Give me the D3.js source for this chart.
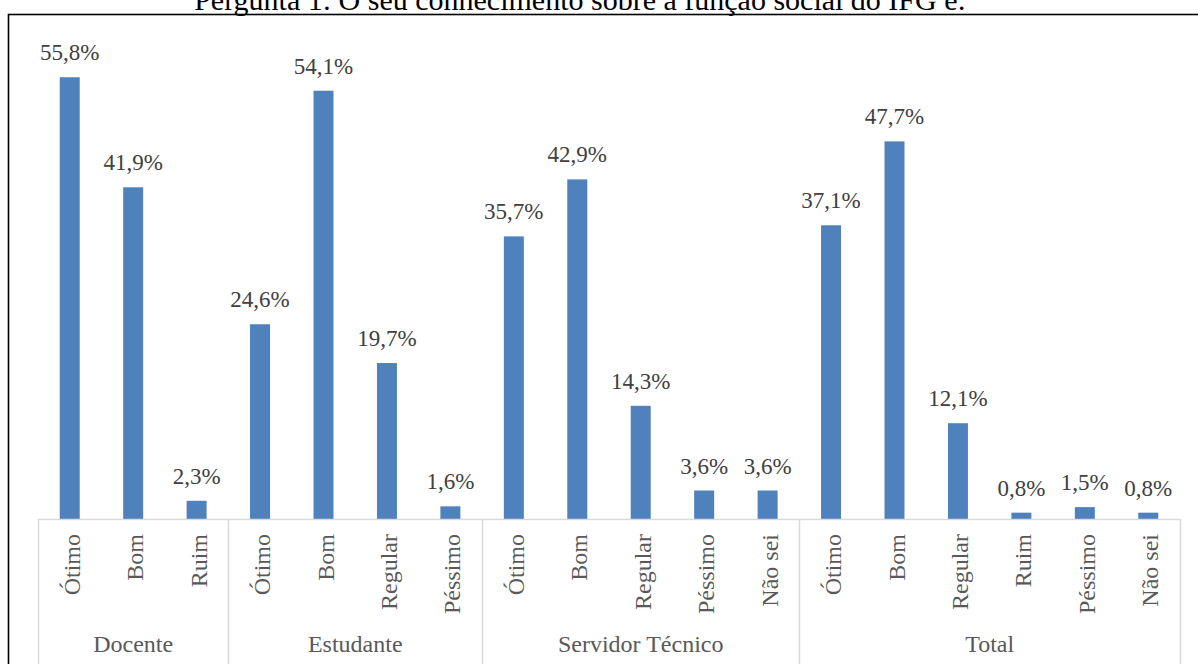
<!DOCTYPE html>
<html>
<head>
<meta charset="utf-8">
<script src="https://cdn.jsdelivr.net/npm/d3@7"></script>
<style>
  html, body { margin: 0; padding: 0; background: #fff; }
  svg { display: block; }
</style>
</head>
<body>
<svg id="chart" width="1198" height="664"></svg>
<script>
// Survey answers grouped by respondent profile
const groups = ["Docente", "Estudante", "Servidor Técnico", "Total"];
const docenteAnswers = ["Ótimo", "Bom", "Ruim"];
const docenteValues = [55.8, 41.9, 2.3];
const estudanteAnswers = ["Ótimo", "Bom", "Regular", "Péssimo"];
const estudanteValues = [24.6, 54.1, 19.7, 1.6];
const servidorAnswers = ["Ótimo", "Bom", "Regular", "Péssimo", "Não sei"];
const servidorValues = [35.7, 42.9, 14.3, 3.6, 3.6];
const totalAnswers = ["Ótimo", "Bom", "Regular", "Ruim", "Péssimo", "Não sei"];
const totalValues = [37.1, 47.7, 12.1, 0.8, 1.5, 0.8];
const yTicks = [0, 10, 20, 30, 40, 50, 60];

const answersByGroup = [docenteAnswers, estudanteAnswers, servidorAnswers, totalAnswers];
const valuesByGroup = [docenteValues, estudanteValues, servidorValues, totalValues];

// Flatten into one row per bar with a unique key
const rows = [];
groups.forEach((g, gi) => {
  answersByGroup[gi].forEach((a, ai) => {
    rows.push({ group: g, answer: a, value: valuesByGroup[gi][ai], key: g + "|" + a });
  });
});

const svg = d3.select("#chart");
const serif = "'Liberation Serif', 'Times New Roman', serif";

const plot = { left: 38, right: 1180, top: 44, bottom: 519 };

const x = d3.scaleBand()
  .domain(rows.map(d => d.key))
  .range([plot.left, plot.right])
  .paddingInner(0.685)
  .paddingOuter(0.3425);

const y = d3.scaleLinear()
  .domain([0, d3.max(yTicks)])
  .range([plot.bottom, plot.top]);

// Chart frame
svg.append("rect")
  .attr("x", 8.5).attr("y", 14.5)
  .attr("width", 1198).attr("height", 700)
  .attr("fill", "none")
  .attr("stroke", "#000")
  .attr("stroke-width", 1.6);

// Title
svg.append("text")
  .attr("x", 580).attr("y", 10)
  .attr("text-anchor", "middle")
  .attr("font-family", serif)
  .attr("font-size", 30)
  .attr("fill", "#000")
  .text("Pergunta 1: O seu conhecimento sobre a função social do IFG é:");

// Bars
svg.append("g").selectAll("rect")
  .data(rows)
  .join("rect")
  .attr("x", d => x(d.key))
  .attr("y", d => y(d.value))
  .attr("width", x.bandwidth())
  .attr("height", d => y(0) - y(d.value))
  .attr("fill", "#4F81BD");

// Value labels
svg.append("g").selectAll("text")
  .data(rows)
  .join("text")
  .attr("x", d => x(d.key) + x.bandwidth() / 2)
  .attr("y", d => y(d.value) - 17)
  .attr("text-anchor", "middle")
  .attr("font-family", serif)
  .attr("font-size", 23)
  .attr("fill", "#404040")
  .text(d => d.value.toFixed(1).replace(".", ",") + "%");

// Category axis baseline
const axisColor = "#d9d9d9";
svg.append("line")
  .attr("x1", plot.left).attr("x2", plot.right)
  .attr("y1", y(0) + 0.5).attr("y2", y(0) + 0.5)
  .attr("stroke", axisColor).attr("stroke-width", 1.5);

// Group dividers
const step = x.step();
const groupBounds = [];
let idx = 0;
groups.forEach((g, gi) => {
  const n = answersByGroup[gi].length;
  const start = plot.left + idx * step;
  const end = plot.left + (idx + n) * step;
  groupBounds.push({ group: g, start, end });
  idx += n;
});
const dividerXs = [plot.left].concat(groupBounds.map(b => b.end));
svg.append("g").selectAll("line")
  .data(dividerXs)
  .join("line")
  .attr("x1", d => Math.round(d) + 0.5).attr("x2", d => Math.round(d) + 0.5)
  .attr("y1", y(0)).attr("y2", 664)
  .attr("stroke", axisColor).attr("stroke-width", 1.5);

// Answer labels (rotated)
svg.append("g").selectAll("text")
  .data(rows)
  .join("text")
  .attr("transform", d => `translate(${x(d.key) + x.bandwidth() / 2 + 10},534) rotate(-90)`)
  .attr("text-anchor", "end")
  .attr("font-family", serif)
  .attr("font-size", 24)
  .attr("fill", "#595959")
  .text(d => d.answer);

// Group labels
svg.append("g").selectAll("text")
  .data(groupBounds)
  .join("text")
  .attr("x", d => (d.start + d.end) / 2)
  .attr("y", 652)
  .attr("text-anchor", "middle")
  .attr("font-family", serif)
  .attr("font-size", 24)
  .attr("fill", "#595959")
  .text(d => d.group);
</script>
</body>
</html>
